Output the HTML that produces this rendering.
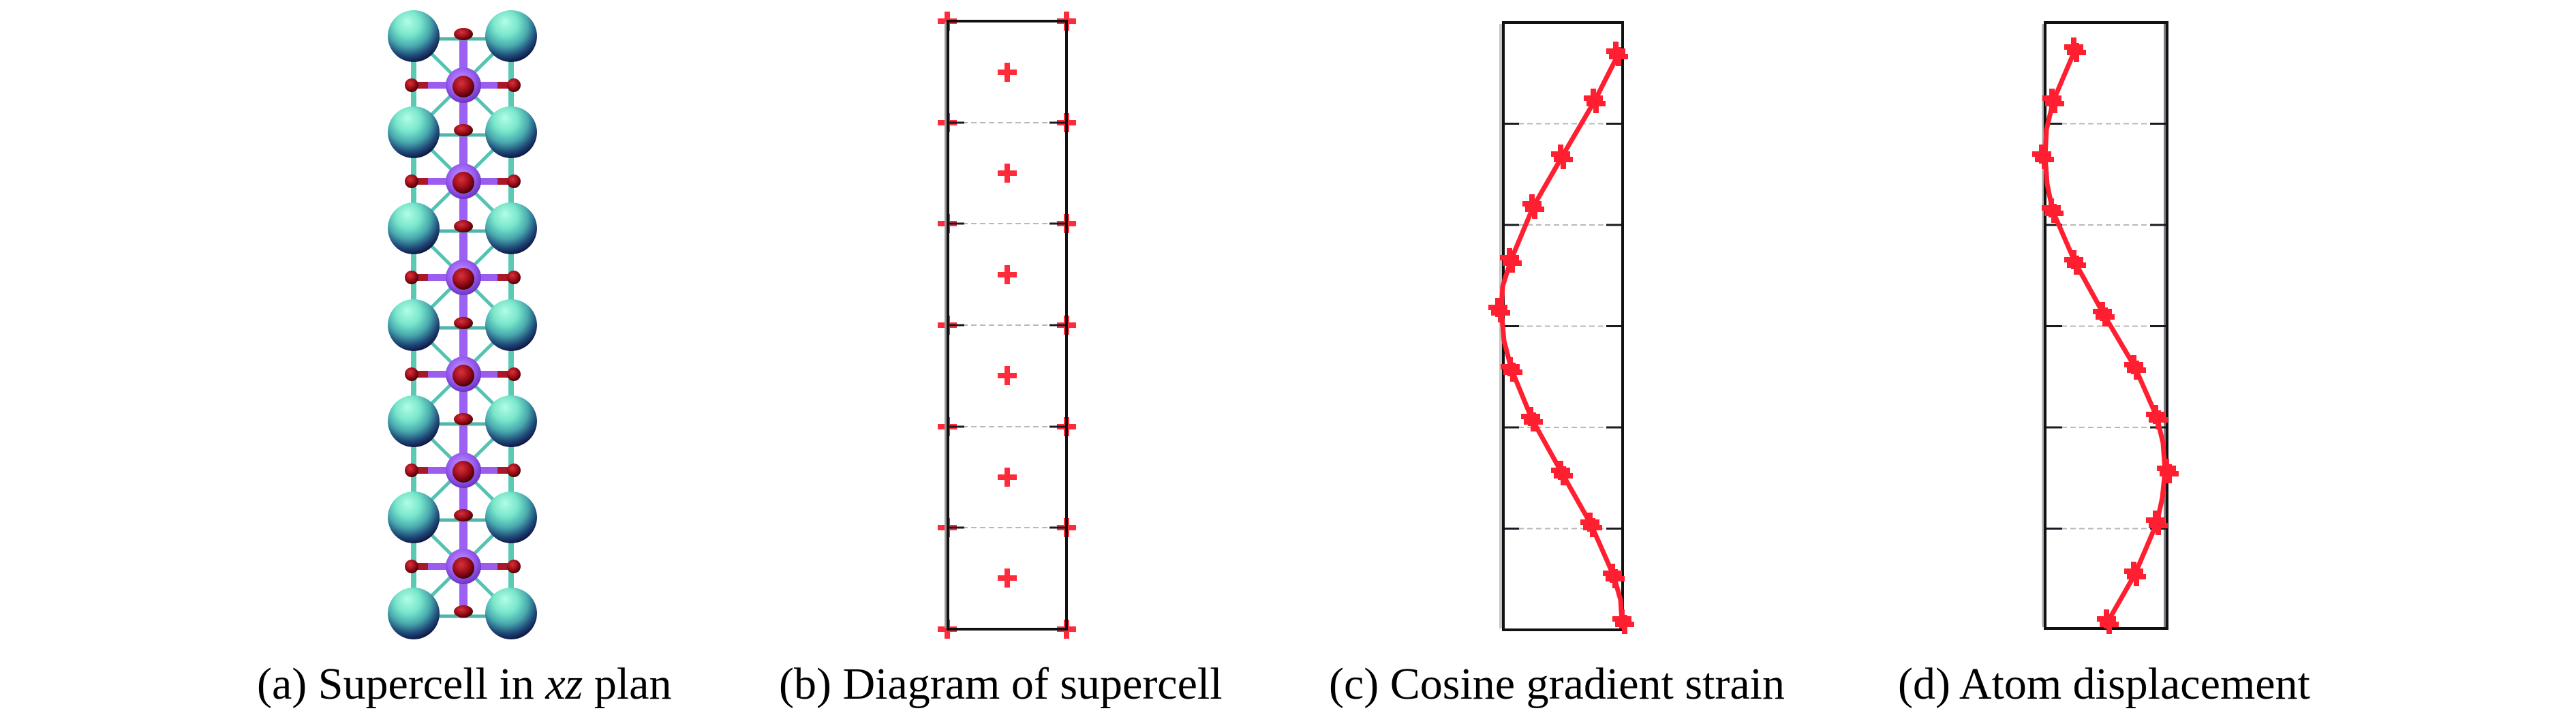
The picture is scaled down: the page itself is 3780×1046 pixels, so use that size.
<!DOCTYPE html>
<html>
<head>
<meta charset="utf-8">
<style>
  html,body{margin:0;padding:0;background:#ffffff;}
  svg{display:block;}
</style>
</head>
<body>
<svg width="3780" height="1046" viewBox="0 0 3780 1046" xmlns="http://www.w3.org/2000/svg">
  <defs>
    <radialGradient id="cy" cx="0.42" cy="0.32" r="0.68" fx="0.38" fy="0.22">
      <stop offset="0" stop-color="#b2fde8"/>
      <stop offset="0.35" stop-color="#79e6cb"/>
      <stop offset="0.62" stop-color="#48a9ae"/>
      <stop offset="0.85" stop-color="#1f4a78"/>
      <stop offset="1" stop-color="#0f1a48"/>
    </radialGradient>
    <radialGradient id="pu" cx="0.45" cy="0.4" r="0.6">
      <stop offset="0" stop-color="#c39cff"/>
      <stop offset="0.6" stop-color="#9a5ef2"/>
      <stop offset="1" stop-color="#6a34c0"/>
    </radialGradient>
    <radialGradient id="rd" cx="0.4" cy="0.35" r="0.65">
      <stop offset="0" stop-color="#d8323c"/>
      <stop offset="0.6" stop-color="#9a0c18"/>
      <stop offset="1" stop-color="#4a0006"/>
    </radialGradient>
    <g id="p">
      <rect x="-14" y="-4" width="28" height="8"/>
      <rect x="-4" y="-14" width="8" height="28"/>
    </g>
    <g id="m">
      <use href="#p" x="-2" y="-4"/>
      <use href="#p" x="2" y="4"/>
    </g>
  </defs>

  <!-- ===== Panel (a): supercell structure ===== -->
  <g>
    <!-- vertical cyan bars -->
    <rect x="603" y="53" width="8" height="847" fill="#5cc9b5"/>
    <rect x="746" y="53" width="8" height="847" fill="#5cc9b5"/>
    <!-- vertical purple bar -->
    <rect x="674" y="45" width="12" height="862" fill="#9c60f4"/>
    <!-- diagonal cyan bonds -->
    <g stroke="#56c2b1" stroke-width="5">
      <line x1="607" y1="53" x2="750" y2="194"/><line x1="750" y1="53" x2="607" y2="194"/>
      <line x1="607" y1="194" x2="750" y2="335"/><line x1="750" y1="194" x2="607" y2="335"/>
      <line x1="607" y1="335" x2="750" y2="477"/><line x1="750" y1="335" x2="607" y2="477"/>
      <line x1="607" y1="477" x2="750" y2="618"/><line x1="750" y1="477" x2="607" y2="618"/>
      <line x1="607" y1="618" x2="750" y2="759"/><line x1="750" y1="618" x2="607" y2="759"/>
      <line x1="607" y1="759" x2="750" y2="900"/><line x1="750" y1="759" x2="607" y2="900"/>
    </g>
    <!-- horizontal cyan bonds at cyan rows -->
    <g stroke="#4fb6a8" stroke-width="5">
      <line x1="607" y1="57" x2="750" y2="57"/>
      <line x1="607" y1="198" x2="750" y2="198"/>
      <line x1="607" y1="339" x2="750" y2="339"/>
      <line x1="607" y1="481" x2="750" y2="481"/>
      <line x1="607" y1="622" x2="750" y2="622"/>
      <line x1="607" y1="763" x2="750" y2="763"/>
      <line x1="607" y1="904" x2="750" y2="904"/>
    </g>
    <!-- small red atoms on center column at cyan rows -->
    <g fill="url(#rd)">
      <ellipse cx="680" cy="50" rx="14" ry="9"/>
      <ellipse cx="680" cy="191" rx="14" ry="9"/>
      <ellipse cx="680" cy="332" rx="14" ry="9"/>
      <ellipse cx="680" cy="474" rx="14" ry="9"/>
      <ellipse cx="680" cy="615" rx="14" ry="9"/>
      <ellipse cx="680" cy="756" rx="14" ry="9"/>
      <ellipse cx="680" cy="897" rx="14" ry="9"/>
    </g>
    <!-- horizontal purple bonds at purple rows -->
    <g stroke="#9c5cf0" stroke-width="10">
      <line x1="605" y1="125" x2="753" y2="125"/>
      <line x1="605" y1="266" x2="753" y2="266"/>
      <line x1="605" y1="407" x2="753" y2="407"/>
      <line x1="605" y1="549" x2="753" y2="549"/>
      <line x1="605" y1="690" x2="753" y2="690"/>
      <line x1="605" y1="831" x2="753" y2="831"/>
    </g>
    <g stroke="#a8182a" stroke-width="10">
      <line x1="605" y1="125" x2="628" y2="125"/><line x1="730" y1="125" x2="753" y2="125"/>
      <line x1="605" y1="266" x2="628" y2="266"/><line x1="730" y1="266" x2="753" y2="266"/>
      <line x1="605" y1="407" x2="628" y2="407"/><line x1="730" y1="407" x2="753" y2="407"/>
      <line x1="605" y1="549" x2="628" y2="549"/><line x1="730" y1="549" x2="753" y2="549"/>
      <line x1="605" y1="690" x2="628" y2="690"/><line x1="730" y1="690" x2="753" y2="690"/>
      <line x1="605" y1="831" x2="628" y2="831"/><line x1="730" y1="831" x2="753" y2="831"/>
    </g>
    <!-- side red atoms -->
    <g fill="url(#rd)">
      <circle cx="604" cy="125" r="10"/><circle cx="754" cy="125" r="10"/>
      <circle cx="604" cy="266" r="10"/><circle cx="754" cy="266" r="10"/>
      <circle cx="604" cy="407" r="10"/><circle cx="754" cy="407" r="10"/>
      <circle cx="604" cy="549" r="10"/><circle cx="754" cy="549" r="10"/>
      <circle cx="604" cy="690" r="10"/><circle cx="754" cy="690" r="10"/>
      <circle cx="604" cy="831" r="10"/><circle cx="754" cy="831" r="10"/>
    </g>
    <!-- purple atoms with red centers -->
    <g>
      <circle cx="680" cy="125" r="26" fill="url(#pu)"/><circle cx="680" cy="127" r="16" fill="url(#rd)"/>
      <circle cx="680" cy="266" r="26" fill="url(#pu)"/><circle cx="680" cy="268" r="16" fill="url(#rd)"/>
      <circle cx="680" cy="407" r="26" fill="url(#pu)"/><circle cx="680" cy="409" r="16" fill="url(#rd)"/>
      <circle cx="680" cy="549" r="26" fill="url(#pu)"/><circle cx="680" cy="551" r="16" fill="url(#rd)"/>
      <circle cx="680" cy="690" r="26" fill="url(#pu)"/><circle cx="680" cy="692" r="16" fill="url(#rd)"/>
      <circle cx="680" cy="831" r="26" fill="url(#pu)"/><circle cx="680" cy="833" r="16" fill="url(#rd)"/>
    </g>
    <!-- big cyan atoms -->
    <g fill="url(#cy)">
      <circle cx="607" cy="53" r="38"/><circle cx="750" cy="53" r="38"/>
      <circle cx="607" cy="194" r="38"/><circle cx="750" cy="194" r="38"/>
      <circle cx="607" cy="335" r="38"/><circle cx="750" cy="335" r="38"/>
      <circle cx="607" cy="477" r="38"/><circle cx="750" cy="477" r="38"/>
      <circle cx="607" cy="618" r="38"/><circle cx="750" cy="618" r="38"/>
      <circle cx="607" cy="759" r="38"/><circle cx="750" cy="759" r="38"/>
      <circle cx="607" cy="900" r="38"/><circle cx="750" cy="900" r="38"/>
    </g>
  </g>

  <!-- ===== Panel (b): diagram of supercell ===== -->
  <g>
    <!-- dashed grid lines -->
    <g stroke="#b8b8b8" stroke-width="2" stroke-dasharray="8 5">
      <line x1="1412" y1="180" x2="1543" y2="180"/>
      <line x1="1412" y1="328" x2="1543" y2="328"/>
      <line x1="1412" y1="477" x2="1543" y2="477"/>
      <line x1="1412" y1="626" x2="1543" y2="626"/>
      <line x1="1412" y1="774" x2="1543" y2="774"/>
    </g>
    <!-- markers -->
    <g fill="#ff2a3a">
      <use href="#p" x="1390" y="31"/><use href="#p" x="1565" y="31"/>
      <use href="#p" x="1390" y="180"/><use href="#p" x="1565" y="180"/>
      <use href="#p" x="1390" y="328"/><use href="#p" x="1565" y="328"/>
      <use href="#p" x="1390" y="477"/><use href="#p" x="1565" y="477"/>
      <use href="#p" x="1390" y="626"/><use href="#p" x="1565" y="626"/>
      <use href="#p" x="1390" y="774"/><use href="#p" x="1565" y="774"/>
      <use href="#p" x="1390" y="923"/><use href="#p" x="1565" y="923"/>
      <use href="#p" x="1478" y="106"/>
      <use href="#p" x="1478" y="254"/>
      <use href="#p" x="1478" y="403"/>
      <use href="#p" x="1478" y="551"/>
      <use href="#p" x="1478" y="700"/>
      <use href="#p" x="1478" y="848"/>
    </g>
    <!-- ticks -->
    <g stroke="#1a1a22" stroke-width="3">
      <line x1="1390" y1="180" x2="1415" y2="180"/><line x1="1540" y1="180" x2="1565" y2="180"/>
      <line x1="1390" y1="328" x2="1415" y2="328"/><line x1="1540" y1="328" x2="1565" y2="328"/>
      <line x1="1390" y1="477" x2="1415" y2="477"/><line x1="1540" y1="477" x2="1565" y2="477"/>
      <line x1="1390" y1="626" x2="1415" y2="626"/><line x1="1540" y1="626" x2="1565" y2="626"/>
      <line x1="1390" y1="774" x2="1415" y2="774"/><line x1="1540" y1="774" x2="1565" y2="774"/>
    </g>
    <line x1="1388" y1="33" x2="1388" y2="921" stroke="#9a9a9a" stroke-width="4"/>
    <rect x="1391" y="31" width="174" height="892" fill="none" stroke="#111" stroke-width="4"/>
  </g>

  <!-- ===== Panel (c): cosine gradient strain ===== -->
  <g>
    <line x1="2202" y1="35" x2="2202" y2="922" stroke="#c8c8c8" stroke-width="4"/>
    <g stroke="#b8b8b8" stroke-width="2" stroke-dasharray="8 5">
      <line x1="2228" y1="181.5" x2="2358" y2="181.5"/>
      <line x1="2228" y1="330" x2="2358" y2="330"/>
      <line x1="2228" y1="478.5" x2="2358" y2="478.5"/>
      <line x1="2228" y1="627" x2="2358" y2="627"/>
      <line x1="2228" y1="775.5" x2="2358" y2="775.5"/>
    </g>
    <g stroke="#1a1a22" stroke-width="3">
      <line x1="2205" y1="181.5" x2="2229" y2="181.5"/><line x1="2357" y1="181.5" x2="2381" y2="181.5"/>
      <line x1="2205" y1="330" x2="2229" y2="330"/><line x1="2357" y1="330" x2="2381" y2="330"/>
      <line x1="2205" y1="478.5" x2="2229" y2="478.5"/><line x1="2357" y1="478.5" x2="2381" y2="478.5"/>
      <line x1="2205" y1="627" x2="2229" y2="627"/><line x1="2357" y1="627" x2="2381" y2="627"/>
      <line x1="2205" y1="775.5" x2="2229" y2="775.5"/><line x1="2357" y1="775.5" x2="2381" y2="775.5"/>
    </g>
    <rect x="2206" y="33" width="175" height="891" fill="none" stroke="#111" stroke-width="4"/>
    <polyline fill="none" stroke="#ff1f30" stroke-width="7" stroke-linejoin="round" stroke-linecap="round"
      points="2375,79 2340,148 2292,230 2250,303 2217,382 2205,420 2203,455 2207,500 2218,542 2248,615 2292,694 2335,770 2368,845 2378,880 2380,912"/>
    <g fill="#ff1f30">
      <use href="#m" x="2373" y="79"/>
      <use href="#m" x="2340" y="148"/>
      <use href="#m" x="2292" y="230"/>
      <use href="#m" x="2250" y="303"/>
      <use href="#m" x="2217" y="382"/>
      <use href="#m" x="2200" y="455"/>
      <use href="#m" x="2218" y="542"/>
      <use href="#m" x="2248" y="615"/>
      <use href="#m" x="2292" y="694"/>
      <use href="#m" x="2335" y="770"/>
      <use href="#m" x="2368" y="845"/>
      <use href="#m" x="2382" y="912"/>
    </g>
  </g>

  <!-- ===== Panel (d): atom displacement ===== -->
  <g>
    <line x1="2998" y1="35" x2="2998" y2="920" stroke="#a8a8a8" stroke-width="3"/>
    <line x1="3177" y1="35" x2="3177" y2="920" stroke="#7a7f88" stroke-width="4"/>
    <g stroke="#b8b8b8" stroke-width="2" stroke-dasharray="8 5">
      <line x1="3025" y1="181.5" x2="3155" y2="181.5"/>
      <line x1="3025" y1="330" x2="3155" y2="330"/>
      <line x1="3025" y1="478.5" x2="3155" y2="478.5"/>
      <line x1="3025" y1="627" x2="3155" y2="627"/>
      <line x1="3025" y1="775.5" x2="3155" y2="775.5"/>
    </g>
    <g stroke="#1a1a22" stroke-width="3">
      <line x1="3000" y1="181.5" x2="3026" y2="181.5"/><line x1="3155" y1="181.5" x2="3179" y2="181.5"/>
      <line x1="3000" y1="330" x2="3026" y2="330"/><line x1="3155" y1="330" x2="3179" y2="330"/>
      <line x1="3000" y1="478.5" x2="3026" y2="478.5"/><line x1="3155" y1="478.5" x2="3179" y2="478.5"/>
      <line x1="3000" y1="627" x2="3026" y2="627"/><line x1="3155" y1="627" x2="3179" y2="627"/>
      <line x1="3000" y1="775.5" x2="3026" y2="775.5"/><line x1="3155" y1="775.5" x2="3179" y2="775.5"/>
    </g>
    <rect x="3001" y="33" width="179" height="889" fill="none" stroke="#111" stroke-width="4"/>
    <polyline fill="none" stroke="#ff1f30" stroke-width="7" stroke-linejoin="round" stroke-linecap="round"
      points="3045,73 3013,148 3003,190 3001,230 3004,270 3012,309 3045,385 3087,461 3133,539 3165,612 3174,650 3177,691 3173,730 3165,767 3133,842 3093,912"/>
    <g fill="#ff1f30">
      <use href="#m" x="3045" y="73"/>
      <use href="#m" x="3013" y="148"/>
      <use href="#m" x="2998" y="230"/>
      <use href="#m" x="3012" y="309"/>
      <use href="#m" x="3045" y="385"/>
      <use href="#m" x="3087" y="461"/>
      <use href="#m" x="3133" y="539"/>
      <use href="#m" x="3165" y="612"/>
      <use href="#m" x="3181" y="691"/>
      <use href="#m" x="3165" y="767"/>
      <use href="#m" x="3133" y="842"/>
      <use href="#m" x="3093" y="912"/>
    </g>
  </g>

  <!-- ===== Captions ===== -->
  <g font-family="'Liberation Serif', 'Times New Roman', serif" font-size="66" fill="#000">
    <text x="377" y="1025">(a) Supercell in <tspan font-style="italic">xz</tspan> plan</text>
    <text x="1143" y="1025">(b) Diagram of supercell</text>
    <text x="1950" y="1025">(c) Cosine gradient strain</text>
    <text x="2785" y="1025">(d) Atom displacement</text>
  </g>
</svg>
</body>
</html>
